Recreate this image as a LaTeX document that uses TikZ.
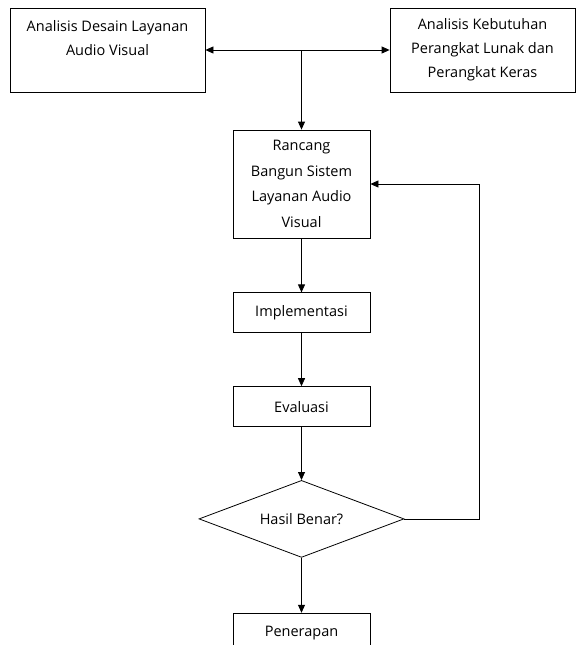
\documentclass[tikz,border=0pt]{standalone}
\usepackage{fontspec}
\setmainfont{Open Sans}
\usetikzlibrary{arrows.meta,positioning,shapes.geometric}

\begin{document}
\begin{tikzpicture}[
  x=1pt, y=-1pt,
  font=\fontsize{14.5}{24}\selectfont,
  box/.style={draw, align=center, inner sep=0pt, line width=0.8pt},
  stepbox/.style={box, minimum width=137pt, minimum height=40pt},
  arr/.style={-{Triangle[length=8pt,width=7pt]}, line width=0.8pt}
]
\useasboundingbox (0,0) rectangle (576,645);
\clip (0,0) rectangle (576,645);
\node[box, minimum width=195pt, minimum height=84pt] (desain) at (107.5,50) {Analisis Desain Layanan\\Audio Visual\\\mbox{}};
\node[box, minimum width=185pt, minimum height=84pt] (kebutuhan) at (482.5,50) {Analisis Kebutuhan\\Perangkat Lunak dan\\Perangkat Keras};
\coordinate (cabang) at (301.5,50);
\node[box, minimum width=137pt, minimum height=108pt, font=\fontsize{14.5}{25.5}\selectfont] (rancang) at (301.5,184) {Rancang\\Bangun Sistem\\Layanan Audio\\Visual};
\node[stepbox, below=54pt of rancang] (implementasi) {Implementasi};
\node[stepbox, below=53pt of implementasi] (evaluasi) {Evaluasi};
\node[diamond, draw, line width=0.8pt, aspect=2.66, minimum width=205pt, minimum height=77pt, inner sep=0pt, below=53pt of evaluasi] (hasil) {Hasil Benar?};
\node[stepbox, below=55pt of hasil] (penerapan) {Penerapan};
\draw[arr] (cabang) -- (desain.east);
\draw[arr] (cabang) -- (kebutuhan.west);
\draw[arr] (cabang) -- (rancang.north);
\draw[arr] (rancang) -- (implementasi);
\draw[arr] (implementasi) -- (evaluasi);
\draw[arr] (evaluasi) -- (hasil);
\draw[arr] (hasil) -- (penerapan);
\draw[arr] (hasil.east) -- ++(75pt,0) |- (rancang.east);
\end{tikzpicture}
\end{document}
